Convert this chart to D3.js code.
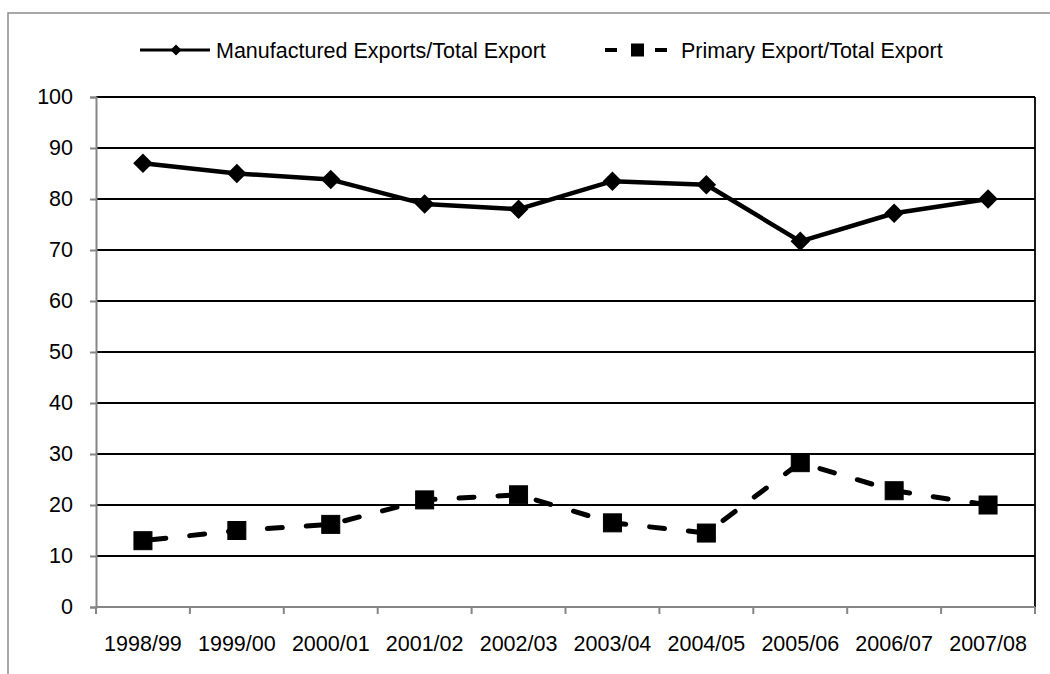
<!DOCTYPE html>
<html>
<head>
<meta charset="utf-8">
<script src="https://cdn.jsdelivr.net/npm/d3@7"></script>
<style>
  html, body { margin: 0; padding: 0; background: #fff; }
  svg { display: block; font-family: "Liberation Sans", Arial, sans-serif; }
</style>
</head>
<body>
<svg id="chart" width="1050" height="674"></svg>
<script>
// Export composition by fiscal year (% of total exports)
const years = ["1998/99", "1999/00", "2000/01", "2001/02", "2002/03",
               "2003/04", "2004/05", "2005/06", "2006/07", "2007/08"];
const manufactured = [87, 85, 83.8, 79, 78, 83.5, 82.8, 71.7, 77.2, 80];
const primary = [13, 15, 16.2, 21, 22, 16.5, 14.5, 28.3, 22.8, 20];
const yTicks = [0, 10, 20, 30, 40, 50, 60, 70, 80, 90, 100];
const seriesNames = ["Manufactured Exports/Total Export", "Primary Export/Total Export"];

const svg = d3.select("#chart");
const plotLeft = 96, plotRight = 1035, plotTop = 97, plotBottom = 607;
const axisGray = "#868686";
const fontSize = 21.5;

const x = d3.scaleBand().domain(years).range([plotLeft, plotRight]);
const y = d3.scaleLinear().domain([0, 100]).range([plotBottom, plotTop]);
const cx = d => x(d) + x.bandwidth() / 2;

// outer frame
svg.append("rect")
  .attr("x", 8).attr("y", 13).attr("width", 1100).attr("height", 720)
  .attr("fill", "none").attr("stroke", "#8c8c8c").attr("stroke-width", 1.5);

// horizontal gridlines
svg.append("g").selectAll("line")
  .data(yTicks.filter(t => t > 0))
  .join("line")
  .attr("x1", plotLeft).attr("x2", plotRight)
  .attr("y1", d => y(d)).attr("y2", d => y(d))
  .attr("stroke", "#000").attr("stroke-width", 1.8);

// right edge of plot area
svg.append("line")
  .attr("x1", plotRight).attr("x2", plotRight).attr("y1", y(100)).attr("y2", y(0))
  .attr("stroke", "#000").attr("stroke-width", 1.8);

// y axis
const yAxis = d3.axisLeft(y).tickValues(yTicks).tickSize(6).tickPadding(17);
const gy = svg.append("g").attr("transform", `translate(${plotLeft},0)`).call(yAxis);
gy.select(".domain").attr("stroke", axisGray).attr("stroke-width", 2);
gy.selectAll(".tick line").attr("stroke", axisGray).attr("stroke-width", 2);
gy.selectAll(".tick text")
  .attr("font-size", fontSize).attr("fill", "#000")
  .attr("font-family", "'Liberation Sans', Arial, sans-serif");

// x axis line, boundary ticks and category labels
svg.append("line")
  .attr("x1", plotLeft).attr("x2", plotRight).attr("y1", y(0)).attr("y2", y(0))
  .attr("stroke", axisGray).attr("stroke-width", 2);
const bounds = years.map(d => x(d)).concat([x.range()[1]]);
svg.append("g").selectAll("line")
  .data(bounds)
  .join("line")
  .attr("x1", d => d).attr("x2", d => d)
  .attr("y1", y(0)).attr("y2", y(0) + 7)
  .attr("stroke", axisGray).attr("stroke-width", 2);
svg.append("g").selectAll("text")
  .data(years)
  .join("text")
  .attr("x", d => cx(d)).attr("y", 651)
  .attr("text-anchor", "middle")
  .attr("font-size", fontSize).attr("fill", "#000")
  .text(d => d);

// series lines
const line = d3.line().x((v, i) => cx(years[i])).y(v => y(v));

svg.append("path")
  .datum(manufactured)
  .attr("d", line)
  .attr("fill", "none").attr("stroke", "#000").attr("stroke-width", 4.5)
  .attr("stroke-linejoin", "round");

svg.append("path")
  .datum(primary)
  .attr("d", line)
  .attr("fill", "none").attr("stroke", "#000").attr("stroke-width", 5)
  .attr("stroke-dasharray", "15,24").attr("stroke-dashoffset", -8)
  .attr("stroke-linecap", "round");

// markers
const diamond = d3.symbol().type(d3.symbolSquare).size(190);
svg.append("g").selectAll("path")
  .data(manufactured)
  .join("path")
  .attr("d", diamond)
  .attr("transform", (v, i) => `translate(${cx(years[i])},${y(v)}) rotate(45)`)
  .attr("fill", "#000");

const sq = 18;
svg.append("g").selectAll("rect")
  .data(primary)
  .join("rect")
  .attr("x", (v, i) => cx(years[i]) - sq / 2)
  .attr("y", v => y(v) - sq / 2)
  .attr("width", sq).attr("height", sq)
  .attr("fill", "#000").attr("stroke", "#000").attr("stroke-width", 1);

// legend
const ly = 50;
const lg = svg.append("g");
lg.append("line").attr("x1", 140).attr("x2", 210).attr("y1", ly).attr("y2", ly)
  .attr("stroke", "#000").attr("stroke-width", 3);
lg.append("path")
  .attr("d", d3.symbol().type(d3.symbolSquare).size(60))
  .attr("transform", `translate(176,${ly}) rotate(45)`)
  .attr("fill", "#000");
lg.append("text").attr("x", 216).attr("y", ly).attr("dy", "0.35em")
  .attr("font-size", fontSize).attr("fill", "#000").text(seriesNames[0]);

lg.append("line").attr("x1", 605).attr("x2", 617).attr("y1", ly).attr("y2", ly)
  .attr("stroke", "#000").attr("stroke-width", 4);
lg.append("line").attr("x1", 655).attr("x2", 667).attr("y1", ly).attr("y2", ly)
  .attr("stroke", "#000").attr("stroke-width", 4);
lg.append("rect").attr("x", 631).attr("y", ly - 6.5).attr("width", 13).attr("height", 13)
  .attr("fill", "#000");
lg.append("text").attr("x", 681).attr("y", ly).attr("dy", "0.35em")
  .attr("font-size", fontSize).attr("fill", "#000").text(seriesNames[1]);
</script>
</body>
</html>
